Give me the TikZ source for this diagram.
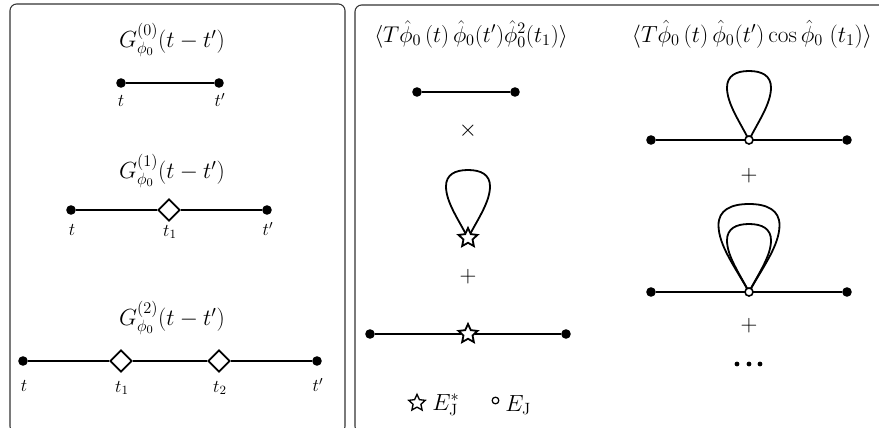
\documentclass[tikz,border=0pt]{standalone}
\usepackage{fix-cm}
\usetikzlibrary{shapes.geometric}
\tikzset{
  x=0.75pt,y=-0.75pt,
  panel/.style={draw=black!80,line width=0.8pt,rounded corners=5pt},
  lnk/.style={draw=black,line width=1.5pt},
  loopline/.style={draw=black,line width=1.35pt},
  endp/.style={circle,fill=black,inner sep=0pt,minimum size=7.2pt},
  dia/.style={diamond,draw=black,fill=white,line width=1.4pt,inner sep=0pt,minimum size=16.5pt},
  starn/.style={star,star points=5,star point ratio=2.1,draw=black,fill=white,line width=1.35pt,inner sep=0pt,minimum size=15pt},
  circn/.style={circle,draw=black,fill=white,line width=1.2pt,inner sep=0pt,minimum size=6pt},
  lab/.style={font=\fontsize{13.5}{15}\selectfont,inner sep=0pt},
  ttl/.style={font=\fontsize{17.5}{20}\selectfont,inner sep=0pt},
  ttlb/.style={font=\fontsize{17.1}{20}\selectfont,inner sep=0pt},
  dotn/.style={circle,fill=black,inner sep=0pt,minimum size=3.6pt}
}
\newcommand{\teardrop}[3]{% anchor, half width, height (px)
  \begin{scope}[shift={(#1)},x=#2*0.75pt,y=#3*0.75pt]
  \draw[loopline] (0,0) .. controls (-0.45,0.28) and (-1,0.53) .. (-1,0.76)
     .. controls (-1,0.93) and (-0.6,1) .. (0,1)
     .. controls (0.6,1) and (1,0.93) .. (1,0.76)
     .. controls (1,0.53) and (0.45,0.28) .. (0,0);
  \end{scope}}
\begin{document}
\begin{tikzpicture}
\useasboundingbox (0,0) rectangle (879,428);
\begin{scope}
\clip (0,0) rectangle (879,428);
\draw[panel] (10,4) rectangle (345,433);
\draw[panel] (355,5) rectangle (895,433);
\end{scope}
% left panel
\node[ttl] (h0) at (172,40) {$G^{(0)}_{\phi_0}(t-t')$};
\node[endp] (a0) at (121,83) {};
\node[endp] (a1) at (219,83) {};
\draw[lnk] (a0) -- (a1);
\node[lab] (a0l) at (121,101) {$t$};
\node[lab] (a1l) at (220,100) {$t'$};
\node[ttl] (h1) at (172,171) {$G^{(1)}_{\phi_0}(t-t')$};
\node[endp] (b0) at (71,210) {};
\node[dia] (b1) at (169,210) {};
\node[endp] (b2) at (267,210) {};
\draw[lnk] (b0) -- (b1) (b1) -- (b2);
\node[lab] (b0l) at (72,230) {$t$};
\node[lab] (b1l) at (170,232) {$t_1$};
\node[lab] (b2l) at (268,229) {$t'$};
\node[ttl] (h2) at (172,318) {$G^{(2)}_{\phi_0}(t-t')$};
\node[endp] (c0) at (23,361) {};
\node[dia] (c1) at (121,361) {};
\node[dia] (c2) at (219,361) {};
\node[endp] (c3) at (317,361) {};
\draw[lnk] (c0) -- (c1) (c1) -- (c2) (c2) -- (c3);
\node[lab] (c0l) at (24,386) {$t$};
\node[lab] (c1l) at (122,388) {$t_1$};
\node[lab] (c2l) at (220,388) {$t_2$};
\node[lab] (c3l) at (318,385) {$t'$};
% middle
\node[ttlb] (h3) at (471,34) {$\langle T\hat{\phi}_0\,(t)\,\hat{\phi}_0(t')\hat{\phi}^2_0(t_1)\rangle$};
\node[endp] (d0) at (417,92) {};
\node[endp] (d1) at (515,92) {};
\draw[lnk] (d0) -- (d1);
\node[ttl] (times) at (468,131) {$\times$};
\coordinate (e0) at (468,238);
\teardrop{e0}{22}{68}
\node[starn] (e1) at (e0) {};
\node[ttl] (plus1) at (468,277) {$+$};
\node[endp] (f0) at (370,334) {};
\node[starn] (f1) at (468,334) {};
\node[endp] (f2) at (566,334) {};
\draw[lnk] (f0) -- (f1) (f1) -- (f2);
\node[starn,minimum size=13pt,line width=1pt] (g0) at (417,403) {};
\node[ttl,anchor=west] (g1) at (432,405) {$E^*_{\mathrm{J}}$};
\node[circn,minimum size=5pt,line width=0.9pt] (g2) at (495.5,400.5) {};
\node[ttl,anchor=west] (g3) at (505,405) {$E_{\mathrm{J}}$};
% right
\node[ttl] (h4) at (752,34) {$\langle T\hat{\phi}_0\,(t)\,\hat{\phi}_0(t')\cos\hat{\phi}_0\;(t_1)\rangle$};
\node[endp] (k0) at (651,140) {};
\coordinate (k1c) at (749,140);
\node[endp] (k2) at (847,140) {};
\draw[lnk] (k0) -- (k2);
\teardrop{k1c}{22}{69}
\node[circn] (k1) at (k1c) {};
\node[ttl] (plus2) at (749,176) {$+$};
\node[endp] (m0) at (651,292) {};
\coordinate (m1c) at (749,292);
\node[endp] (m2) at (847,292) {};
\draw[lnk] (m0) -- (m2);
\teardrop{m1c}{22}{68}
\teardrop{m1c}{30.5}{88}
\node[circn] (m1) at (m1c) {};
\node[ttl] (plus3) at (749,326) {$+$};
\node[dotn] (n0) at (737,364) {};
\node[dotn] (n1) at (749,364) {};
\node[dotn] (n2) at (760,364) {};
\end{tikzpicture}
\end{document}
